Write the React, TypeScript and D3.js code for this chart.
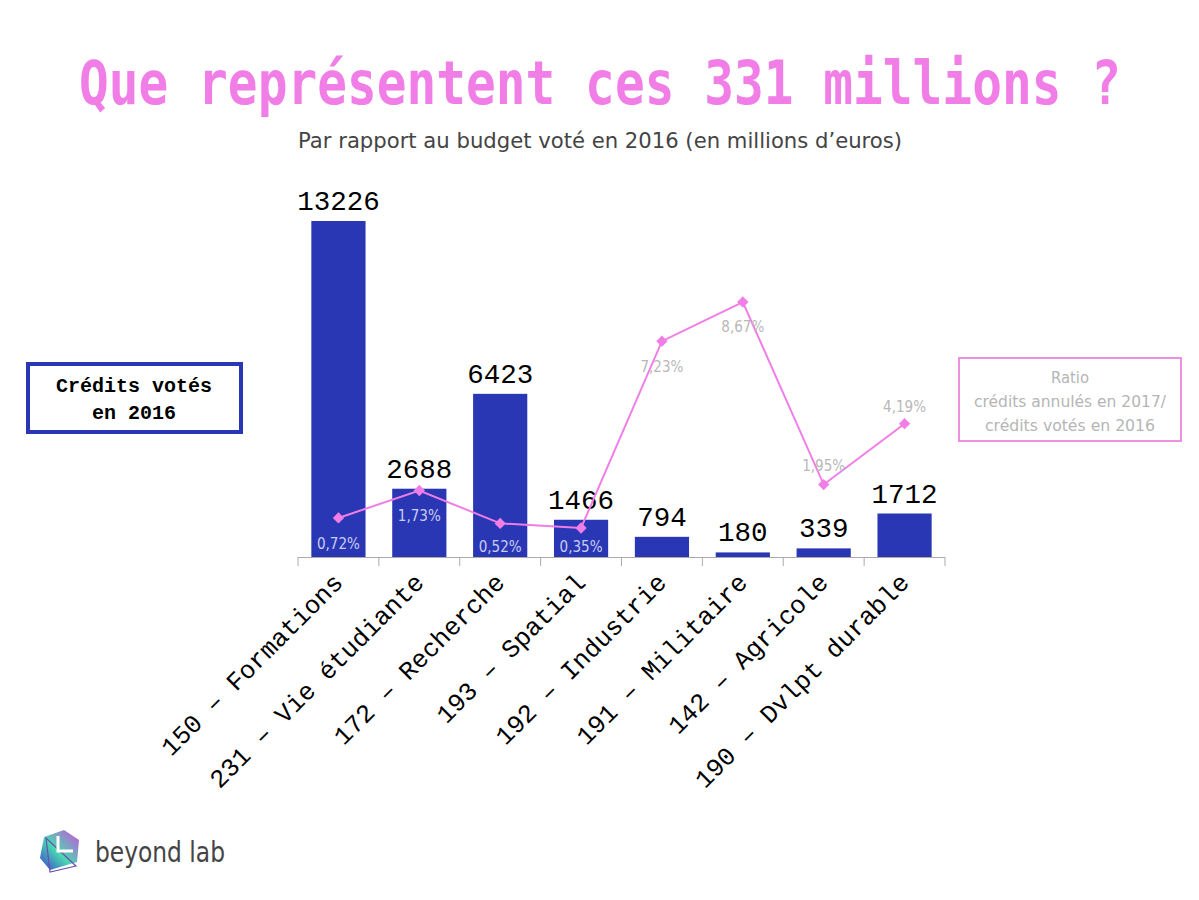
import React from 'react';
import * as d3 from 'd3';

const categories = [
  '150 – Formations',
  '231 – Vie étudiante',
  '172 – Recherche',
  '193 – Spatial',
  '192 – Industrie',
  '191 – Militaire',
  '142 – Agricole',
  '190 – Dvlpt durable',
];
const credits2016 = [13226, 2688, 6423, 1466, 794, 180, 339, 1712];
const ratios = [0.72, 1.73, 0.52, 0.35, 7.23, 8.67, 1.95, 4.19];
const ratioLabels = ['0,72%', '1,73%', '0,52%', '0,35%', '7,23%', '8,67%', '1,95%', '4,19%'];
// where each ratio label sits relative to its point (px, positive = below)
const ratioLabelOffset = [31, 30, 29, 24, 31, 30, -14, -12];
const ratioInsideBar = [true, true, true, true, false, false, false, false];

const BLUE = '#2937b5';
const PINK = '#f07ee6';
const MONO = '"Liberation Mono", "DejaVu Sans Mono", monospace';
const SANS = '"DejaVu Sans", "Open Sans", sans-serif';

const App = () => {
  const width = 1199;
  const height = 900;

  // Set up scales
  const x = d3.scaleBand<string>().domain(categories).range([298, 945]).paddingInner(0.33).paddingOuter(0.165);
  const y = d3.scaleLinear().domain([0, 13226]).range([557, 221]);
  const y2 = d3.scaleLinear().domain([0, 10]).range([537.5, 265.9]);

  const step = x.step();
  const ticks = d3.range(categories.length + 1).map(i => 298 + i * step);

  const line = d3.line<number>()
    .x((d, i) => x(categories[i])! + x.bandwidth() / 2)
    .y(d => y2(d));

  return (
    <svg width={width} height={height} style={{ display: 'block', position: 'absolute', left: 0, top: 0 }}>
      <rect width={width} height={height} fill="#ffffff" />

      {/* Title */}
      <g transform="translate(600,104) scale(1,1.22)">
        <text x={0} y={0} textAnchor="middle" fill={PINK} fontFamily='"DejaVu Sans Mono", monospace'
          fontWeight="bold" fontSize={50} textLength={1042} lengthAdjust="spacingAndGlyphs">
          Que représentent ces 331 millions ?
        </text>
      </g>
      <text x={600} y={148} textAnchor="middle" fill="#444" fontFamily={SANS} fontSize={22}
        textLength={604} lengthAdjust="spacingAndGlyphs">
        Par rapport au budget voté en 2016 (en millions d’euros)
      </text>

      {/* Bars */}
      {credits2016.map((v, i) => (
        <rect key={categories[i]} x={x(categories[i])} y={y(v)} width={x.bandwidth()} height={y(0) - y(v)} fill={BLUE} />
      ))}

      {/* Value labels */}
      {credits2016.map((v, i) => (
        <text key={'v' + i} x={x(categories[i])! + x.bandwidth() / 2} y={y(v) - 11} textAnchor="middle"
          fontFamily={MONO} fontSize={27.5} fill="#000">
          {v}
        </text>
      ))}

      {/* X axis */}
      <line x1={298} x2={945} y1={557.5} y2={557.5} stroke="#aaa" strokeWidth={1} />
      {ticks.map((t, i) => (
        <line key={'t' + i} x1={t} x2={t} y1={557} y2={566} stroke="#aaa" strokeWidth={1} />
      ))}
      {categories.map(c => {
        const cx = x(c)! + x.bandwidth() / 2 + 6;
        return (
          <text key={'l' + c} transform={`translate(${cx},${584}) rotate(-45)`} textAnchor="end"
            fontFamily={MONO} fontSize={25.5} fill="#000">
            {c}
          </text>
        );
      })}

      {/* Ratio line */}
      <path d={line(ratios)!} fill="none" stroke={PINK} strokeWidth={2} />
      {ratios.map((r, i) => {
        const cx = x(categories[i])! + x.bandwidth() / 2;
        const cy = y2(r);
        return (
          <rect key={'m' + i} x={cx - 4} y={cy - 4} width={8} height={8} fill={PINK}
            transform={`rotate(45,${cx},${cy})`} />
        );
      })}
      {ratios.map((r, i) => {
        const cx = x(categories[i])! + x.bandwidth() / 2;
        const cy = y2(r) + ratioLabelOffset[i];
        return (
          <text key={'rl' + i} x={cx} y={cy} textAnchor="middle" fontFamily={SANS} fontSize={16.5}
            fill={ratioInsideBar[i] ? '#c9cdf2' : '#b8b8b8'} textLength={43} lengthAdjust="spacingAndGlyphs">
            {ratioLabels[i]}
          </text>
        );
      })}

      {/* Legend: bars */}
      <rect x={28} y={364} width={213} height={68} fill="#fff" stroke={BLUE} strokeWidth={4} />
      <text x={134} y={392} textAnchor="middle" fontFamily={MONO} fontWeight="bold" fontSize={20}>Crédits votés</text>
      <text x={134} y={419} textAnchor="middle" fontFamily={MONO} fontWeight="bold" fontSize={20}>en 2016</text>

      {/* Legend: ratio */}
      <rect x={959} y={358} width={222} height={83} fill="#fff" stroke="#ee90e2" strokeWidth={2} />
      <text x={1070} y={383} textAnchor="middle" fontFamily={SANS} fontSize={16} fill="#b5b5b5"
        textLength={38} lengthAdjust="spacingAndGlyphs">Ratio</text>
      <text x={1070} y={407} textAnchor="middle" fontFamily={SANS} fontSize={16} fill="#b5b5b5"
        textLength={192} lengthAdjust="spacingAndGlyphs">crédits annulés en 2017/</text>
      <text x={1070} y={431} textAnchor="middle" fontFamily={SANS} fontSize={16} fill="#b5b5b5"
        textLength={170} lengthAdjust="spacingAndGlyphs">crédits votés en 2016</text>

      {/* Logo */}
      <defs>
        <linearGradient id="logoGrad" x1="0" y1="1" x2="1" y2="0">
          <stop offset="0" stopColor="#3a3fcf" />
          <stop offset="0.45" stopColor="#4ad8b0" />
          <stop offset="1" stopColor="#d04be0" />
        </linearGradient>
      </defs>
      <polygon points="44,837 64,830 79,840 77,862 50,870 40,858" fill="url(#logoGrad)" />
      <polygon points="46,838 50,872 76,866" fill="none" stroke="#6a4fb0" strokeWidth={1.2} />
      <polyline points="58,836 58,851 73,851" fill="none" stroke="#fff" strokeWidth={3} />
      <text x={95} y={862} fontFamily={SANS} fontSize={29} fill="#444" textLength={130} lengthAdjust="spacingAndGlyphs">
        beyond lab
      </text>
    </svg>
  );
};

export default App;
